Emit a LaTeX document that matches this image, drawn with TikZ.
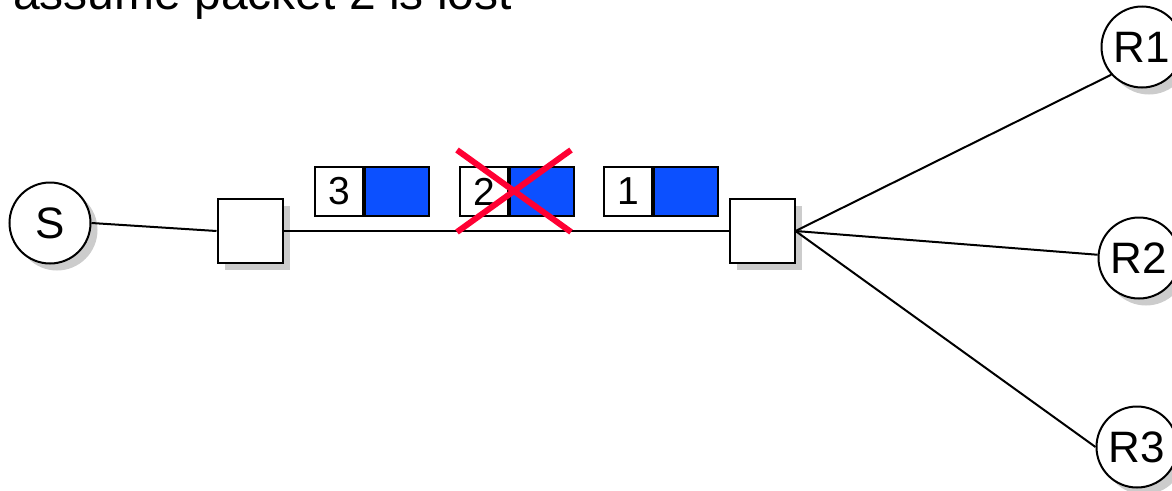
\documentclass[tikz,border=0pt]{standalone}
\usepackage{fontspec}
\setmainfont{Liberation Sans}
\usetikzlibrary{shadows}
\definecolor{pktblue}{RGB}{12,80,255}
\definecolor{lossred}{RGB}{255,0,51}
\definecolor{shadowgray}{RGB}{204,204,204}
\tikzset{
  shad/.style={drop shadow={shadow xshift=7pt, shadow yshift=-7pt, fill=shadowgray, opacity=1}},
  host/.style={circle, draw, line width=2pt, fill=white, minimum size=81pt, inner sep=0pt, shad, font=\fontsize{44}{50}\selectfont},
  router/.style={rectangle, draw, line width=2pt, fill=white, minimum width=65pt, minimum height=64pt, inner sep=0pt, shad},
  hdr/.style={rectangle, draw, line width=1.8pt, fill=white, minimum width=48pt, minimum height=49pt, inner sep=0pt, anchor=west, font=\fontsize{39}{44}\selectfont},
  payload/.style={rectangle, draw, line width=1.8pt, fill=pktblue, minimum width=64pt, minimum height=49pt, inner sep=0pt, anchor=west},
  link/.style={line width=2pt},
  cross/.style={draw=lossred, line width=6pt}
}
\begin{document}
\begin{tikzpicture}[x=1pt, y=-1pt]
\useasboundingbox (0,0) rectangle (1172,490);
\clip (0,0) rectangle (1172,490);
\node[anchor=base west, inner sep=0pt, font=\fontsize{48}{56}\selectfont] (title) at (13,9.5) {assume packet 2 is lost};

\node[host] (S) at (50,223) {S};
\node[router] (rt1) at (250,231) {};
\node[router] (rt2) at (762,231) {};
\node[host] (R1) at (1142,47) {R1};
\node[host] (R2) at (1139,258) {R2};
\node[host] (R3) at (1137,447) {R3};

\draw[link] (S.east) -- (rt1.west);
\draw[link] (rt1.east) -- (rt2.west);
\draw[link] (rt2.east) -- (R1.222);
\draw[link] (rt2.east) -- (R2);
\draw[link] (rt2.east) -- (R3.west);

\node[hdr] (p3h) at (314,191.5) {3};
\node[payload] (p3d) at (p3h.east) {};
\node[hdr] (p2h) at (459,191.5) {2};
\node[payload] (p2d) at (p2h.east) {};
\node[hdr] (p1h) at (603,191.5) {1};
\node[payload] (p1d) at (p1h.east) {};

\coordinate (xa) at (457,150);
\coordinate (xb) at (571,232);
\coordinate (xc) at (571,150);
\coordinate (xd) at (457,232);
\draw[cross] (xa) -- (xb);
\draw[cross] (xc) -- (xd);
\end{tikzpicture}
\end{document}
